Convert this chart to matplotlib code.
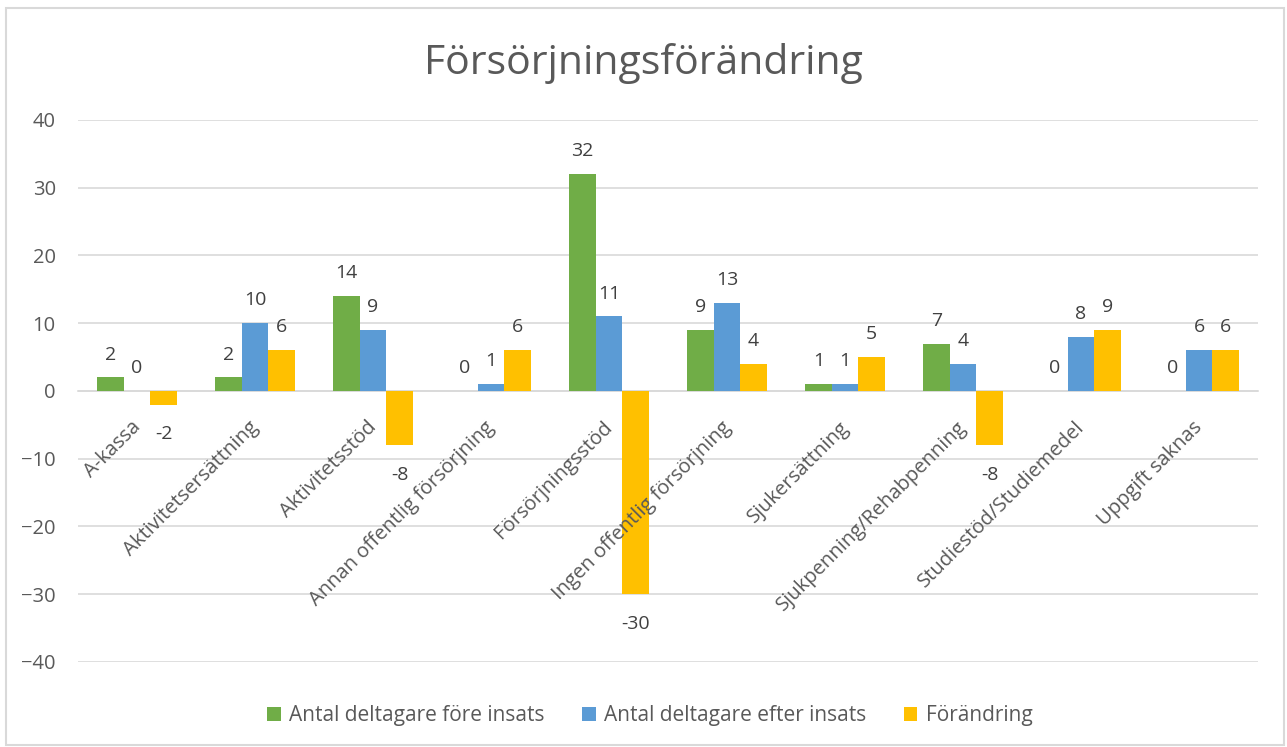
#- Imports:

import numpy as np
import matplotlib.pyplot as plt
from matplotlib.patches import Rectangle


#- Data:

categories = ["A-kassa", "Aktivitetsersättning", "Aktivitetsstöd",
              "Annan offentlig försörjning", "Försörjningsstöd",
              "Ingen offentlig försörjning", "Sjukersättning",
              "Sjukpenning/Rehabpenning", "Studiestöd/Studiemedel",
              "Uppgift saknas"]
before = [2, 2, 14, 0, 32, 9, 1, 7, 0, 0]
after = [0, 10, 9, 1, 11, 13, 1, 4, 8, 6]
change = [-2, 6, -8, 6, -30, 4, 5, -8, 9, 6]

series_names = ["Antal deltagare före insats", "Antal deltagare efter insats",
                "Förändring"]
colors = ["#70AD47", "#5B9BD5", "#FFC000"]
text_color = "#595959"
grid_color = "#D9D9D9"


#- Figure setup:

plt.rcParams['font.family'] = ['Open Sans', 'DejaVu Sans']

fig = plt.figure(figsize=(12.87, 7.47), dpi=100)
ax = fig.add_axes([0.0606, 0.1138, 0.9169, 0.7256])

width = 0.225
idx = np.arange(len(categories))

bars = []
for k, vals in enumerate([before, after, change]):
    b = ax.bar(idx + (k - 1) * width, vals, width, color=colors[k],
               label=series_names[k], zorder=3)
    bars.append(b)
    for rect, v in zip(b, vals):
        x = rect.get_x() + rect.get_width() / 2
        if v >= 0:
            ax.annotate(str(v), (x, v), xytext=(0, 10), textcoords="offset points",
                        ha="center", va="bottom", fontsize=14, color="#404040")
        else:
            ax.annotate(str(v), (x, v), xytext=(0, -15), textcoords="offset points",
                        ha="center", va="top", fontsize=14, color="#404040")


#- Axes styling:

ax.set_xlim(-0.5, len(categories) - 0.5)
ax.set_ylim(-40, 40)
ax.set_yticks(np.arange(-40, 41, 10))
ax.yaxis.grid(True, color=grid_color, linewidth=1.2, zorder=0)
ax.set_axisbelow(True)

for side in ["top", "right", "left"]:
    ax.spines[side].set_visible(False)
ax.spines["bottom"].set_position(("data", 0))
ax.spines["bottom"].set_color(grid_color)
ax.spines["bottom"].set_linewidth(1.2)

# category labels drawn on top of the bars, like in Excel
ax.set_xticks(idx)
ax.set_xticklabels([])
ax.tick_params(axis="x", length=0)
for i, name in zip(idx, categories):
    ax.annotate(name, (i, 0), xytext=(0.5, -24), textcoords="offset points",
                rotation=45, ha="right", va="center", rotation_mode="anchor",
                fontsize=14.5, color=text_color, zorder=5)

ax.tick_params(axis="y", length=0, pad=16, labelsize=14.5, labelcolor=text_color)

fig.suptitle("Försörjningsförändring", fontsize=29.5, color=text_color,
             x=0.5, y=0.942, va="top")

fig.legend(handles=bars, labels=series_names, loc="center",
           bbox_to_anchor=(0.505, 0.042), ncol=3, frameon=False,
           fontsize=15, labelcolor=text_color, handlelength=0.65,
           handleheight=0.65, handletextpad=0.4, columnspacing=1.8)

fig.add_artist(Rectangle((0.005, 0.003), 0.993, 0.986, transform=fig.transFigure,
                         fill=False, edgecolor=grid_color, linewidth=1.5))

plt.savefig("out.png", dpi=100)
